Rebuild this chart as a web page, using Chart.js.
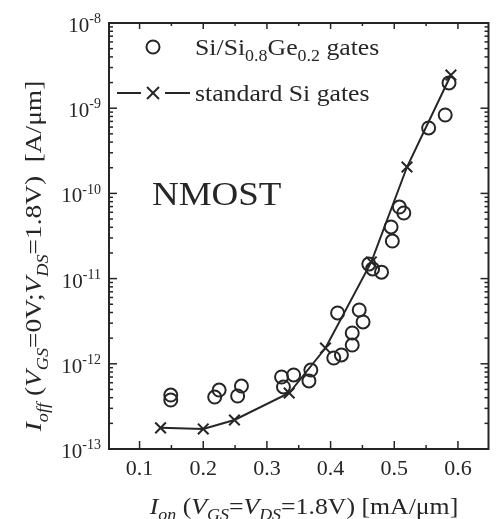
<!DOCTYPE html>
<html><head><meta charset="utf-8">
<script src="https://cdn.jsdelivr.net/npm/chart.js@4"></script>
<style>html,body{margin:0;padding:0;background:#fff;}canvas{display:block}</style>
</head><body>
<canvas id="c" width="498" height="519"></canvas>
<script>
// Si/Si0.8Ge0.2 gates (circles): Ion [mA/um], Ioff [A/um]
const sigeOn  = [0.149, 0.149, 0.218, 0.225, 0.254, 0.260, 0.323, 0.326, 0.342, 0.369, 0.366,
                 0.405, 0.417, 0.434, 0.434, 0.411, 0.445, 0.451, 0.460, 0.466, 0.480,
                 0.495, 0.497, 0.508, 0.515, 0.554, 0.580, 0.586];
const sigeOff = [4.3e-13, 3.76e-13, 4.07e-13, 4.92e-13, 4.19e-13, 5.48e-13, 7.0e-13, 5.35e-13, 7.4e-13, 8.45e-13, 6.3e-13,
                 1.17e-12, 1.27e-12, 1.66e-12, 2.30e-12, 3.95e-12, 4.28e-12, 3.10e-12, 1.48e-11, 1.30e-11, 1.19e-11,
                 4.04e-11, 2.76e-11, 6.92e-11, 5.89e-11, 5.86e-10, 8.32e-10, 1.98e-9];
// standard Si gates (crosses + line)
const siOn  = [0.133, 0.200, 0.249, 0.335, 0.392, 0.464, 0.520, 0.589];
const siOff = [1.77e-13, 1.72e-13, 2.19e-13, 4.54e-13, 1.53e-12, 1.57e-11, 2.04e-10, 2.45e-9];

const xMajorTicks = [0.1, 0.2, 0.3, 0.4, 0.5, 0.6];
const xTickLabels = ['0.1', '0.2', '0.3', '0.4', '0.5', '0.6'];
const xMinorTicks = [0.15, 0.25, 0.35, 0.45, 0.55];
const yDecadeExps = [-8, -9, -10, -11, -12, -13];
const yTickLabels = ['-8', '-9', '-10', '-11', '-12', '-13'];

const INK = '#262626';
const SERIF = "'Liberation Serif', 'Times New Roman', serif";

function drawRich(ctx, segs, x, y, size, align, hs) {
  hs = hs || 1;
  const subSize = Math.round(size * 0.68);
  const fontOf = s => (s.i ? 'italic ' : '') + (s.sub || s.sup ? subSize : size) + 'px ' + SERIF;
  let w = 0;
  segs.forEach(s => { ctx.font = fontOf(s); w += ctx.measureText(s.t).width; });
  w *= hs;
  let cx = align === 'center' ? x - w / 2 : (align === 'right' ? x - w : x);
  ctx.save();
  ctx.translate(cx, y); ctx.scale(hs, 1);
  ctx.textAlign = 'left'; ctx.textBaseline = 'alphabetic';
  let px = 0;
  segs.forEach(s => {
    ctx.font = fontOf(s);
    let dy = s.sub ? size * 0.28 : (s.sup ? -size * 0.42 : 0);
    ctx.fillText(s.t, px, dy);
    px += ctx.measureText(s.t).width;
  });
  ctx.restore();
  return w;
}

const decor = {
  id: 'decor',
  afterDraw(chart) {
    const {ctx, chartArea: a, scales: {x, y}} = chart;
    ctx.save();
    ctx.strokeStyle = INK; ctx.fillStyle = INK;
    ctx.lineWidth = 2;
    ctx.strokeRect(a.left, a.top, a.right - a.left, a.bottom - a.top);
    ctx.lineWidth = 1.5;
    const line = (x1, y1, x2, y2) => { ctx.beginPath(); ctx.moveTo(x1, y1); ctx.lineTo(x2, y2); ctx.stroke(); };
    xMajorTicks.forEach(v => { const p = x.getPixelForValue(v); line(p, a.bottom, p, a.bottom - 8); line(p, a.top, p, a.top + 6); });
    xMinorTicks.forEach(v => { const p = x.getPixelForValue(v); line(p, a.bottom, p, a.bottom - 4); line(p, a.top, p, a.top + 3); });
    yDecadeExps.forEach(e => {
      const p = y.getPixelForValue(Math.pow(10, e));
      line(a.left, p, a.left + 8, p); line(a.right, p, a.right - 8, p);
      if (e > -13) for (let m = 2; m <= 9; m++) {
        const q = y.getPixelForValue(m * Math.pow(10, e - 1));
        line(a.left, q, a.left + 4, q); line(a.right, q, a.right - 4, q);
      }
    });
    // x tick labels
    xMajorTicks.forEach((v, i) => drawRich(ctx, [{t: xTickLabels[i]}], x.getPixelForValue(v), 475, 22, 'center'));
    // y tick labels
    yDecadeExps.forEach((e, i) => {
      const p = y.getPixelForValue(Math.pow(10, e));
      drawRich(ctx, [{t: '10'}, {t: yTickLabels[i], sup: true}], 101, p + 9, 21, 'right');
    });
    // axis titles
    drawRich(ctx, [{t: 'I', i: true}, {t: 'on', i: true, sub: true}, {t: ' ('}, {t: 'V', i: true}, {t: 'GS', i: true, sub: true},
                   {t: '='}, {t: 'V', i: true}, {t: 'DS', i: true, sub: true}, {t: '=1.8V) [mA/\u03bcm]'}], 304, 514, 23, 'center', 1.12);
    ctx.save();
    ctx.translate(41, 256); ctx.rotate(-Math.PI / 2);
    drawRich(ctx, [{t: 'I', i: true}, {t: 'off', i: true, sub: true}, {t: ' ('}, {t: 'V', i: true}, {t: 'GS', i: true, sub: true},
                   {t: '=0V;'}, {t: 'V', i: true}, {t: 'DS', i: true, sub: true}, {t: '=1.8V)  [A/\u03bcm]'}], 0, 0, 24, 'center', 1.14);
    ctx.restore();
    // legend
    ctx.lineWidth = 2;
    ctx.beginPath(); ctx.arc(153, 47, 6.5, 0, Math.PI * 2); ctx.stroke();
    drawRich(ctx, [{t: 'Si/Si'}, {t: '0.8', sub: true}, {t: 'Ge'}, {t: '0.2', sub: true}, {t: ' gates'}], 195, 55, 23, 'left', 1.12);
    line(117, 93, 141, 93); line(165, 93, 190, 93);
    line(147, 87, 159, 99); line(147, 99, 159, 87);
    drawRich(ctx, [{t: 'standard Si gates'}], 195, 101, 23, 'left', 1.12);
    // annotation
    drawRich(ctx, [{t: 'NMOST'}], 152, 205, 33, 'left', 1.12);
    ctx.restore();
  }
};

new Chart(document.getElementById('c'), {
  type: 'scatter',
  data: {
    datasets: [
      {
        label: 'Si/Si0.8Ge0.2 gates',
        data: sigeOn.map((v, i) => ({x: v, y: sigeOff[i]})),
        pointStyle: 'circle', pointRadius: 6.5, pointBorderWidth: 2,
        borderColor: INK, backgroundColor: 'rgba(0,0,0,0)', showLine: false
      },
      {
        label: 'standard Si gates',
        data: siOn.map((v, i) => ({x: v, y: siOff[i]})),
        pointStyle: 'crossRot', pointRadius: 7.5, pointBorderWidth: 2,
        borderColor: INK, backgroundColor: INK, borderWidth: 2, showLine: true, tension: 0
      }
    ]
  },
  options: {
    responsive: false, devicePixelRatio: 1, animation: false,
    layout: {padding: {left: 109, top: 23, right: 3, bottom: 70}},
    plugins: {legend: {display: false}, tooltip: {enabled: false}},
    scales: {
      x: {type: 'linear', min: 0.052, max: 0.648, display: false},
      y: {type: 'logarithmic', min: 1e-13, max: 1e-8, display: false}
    }
  },
  plugins: [decor]
});
</script>
</body></html>
